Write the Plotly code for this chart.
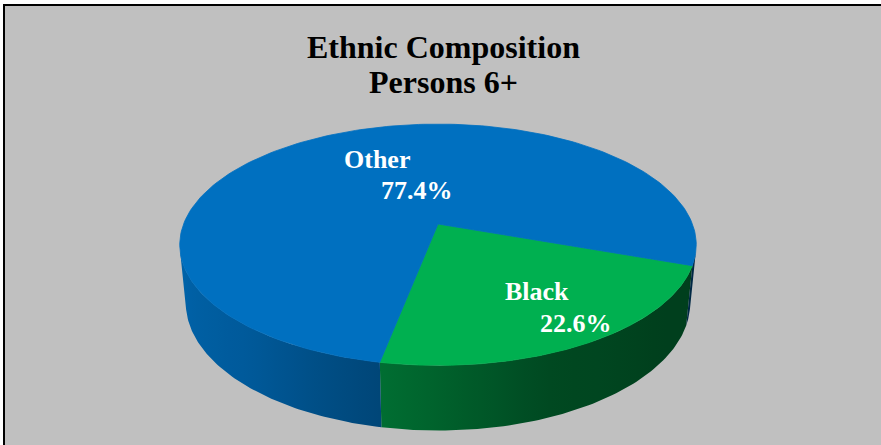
import numpy as np
import plotly.graph_objects as go

# ---------------- data ----------------
categories = ["Black", "Other"]
values = [22.6, 77.4]
title_lines = ["Ethnic Composition", "Persons 6+"]

# ---------------- style / layout constants ----------------
W, H = 881, 445
top_colors = {"Black": (0, 176, 80), "Other": (0, 112, 192)}
label_pos = {"Black": [(537, 291), (576, 323)], "Other": [(377, 159), (417, 190)]}
FONT = "Liberation Serif, Times New Roman, serif"

# 3D pie projection parameters (pixel space)
CX, CY = 438, 224
F = 1314.0
D = 5.165
ALPHA = np.radians(27.4)
DEPTH = 0.26
START = -19.6  # deg, first slice starts here and runs clockwise


def proj(t, z):
    x = np.cos(t)
    y = np.sin(t)
    den = D + y * np.cos(ALPHA) - z * np.sin(ALPHA)
    sx = F * x / den
    sy = F * (y * np.sin(ALPHA) + z * np.cos(ALPHA)) / den
    return CX + sx, CY - sy


# shading factor of the side wall as function of angle (deg, 0..360)
shade_t = [180, 190, 230, 260, 290, 320, 360]
shade_f = [0.90, 0.90, 0.80, 0.62, 0.42, 0.36, 0.35]


def shade(tdeg):
    return np.interp(np.mod(tdeg, 360), shade_t, shade_f)


def rgb(c, f=1.0):
    return "rgb(%d,%d,%d)" % tuple(int(round(v * f)) for v in c)


total = sum(values)
slices = []
a0 = START
for cat, v in zip(categories, values):
    a1 = a0 - v / total * 360.0
    slices.append((cat, a1, a0))
    a0 = a1

# front-facing part of the cylinder wall
k = np.degrees(np.arcsin(1.0 / (D * np.cos(ALPHA))))
vis = [(-180 + k, -k), (-540 + k, -360 - k)]

fig = go.Figure()

# side walls
for cat, lo, hi in slices:
    for vlo, vhi in vis:
        u0, u1 = max(lo, vlo), min(hi, vhi)
        if u1 - u0 <= 0.01:
            continue
        tdeg = np.linspace(u0, u1, 80)
        t = np.radians(tdeg)
        xt, yt = proj(t, 0.0)
        xb, yb = proj(t[::-1], -DEPTH)
        px = np.concatenate([xt, xb, xt[:1]])
        py = np.concatenate([yt, yb, yt[:1]])
        ns = 16
        ts = np.linspace(u0, u1, ns)
        xs, _ = proj(np.radians(ts), 0.0)
        if xs[-1] - xs[0] < 1e-6:
            pos = np.linspace(0, 1, ns)
        else:
            pos = (xs - xs[0]) / (xs[-1] - xs[0])
        pos[0], pos[-1] = 0.0, 1.0
        cs = [[float(p), rgb(top_colors[cat], shade(tt))] for p, tt in zip(pos, ts)]
        fig.add_trace(go.Scatter(
            x=px, y=py, mode="lines", fill="toself",
            line=dict(width=0, color=rgb(top_colors[cat], shade(u0))),
            fillgradient=dict(type="horizontal", colorscale=cs,
                              start=float(xs[0]), stop=float(xs[-1])),
            hoverinfo="skip", showlegend=False))

# top faces
for cat, lo, hi in slices:
    t = np.radians(np.linspace(hi, lo, 200))
    xt, yt = proj(t, 0.0)
    px = np.concatenate([[CX], xt, [CX]])
    py = np.concatenate([[CY], yt, [CY]])
    fig.add_trace(go.Scatter(
        x=px, y=py, mode="lines", fill="toself",
        fillcolor=rgb(top_colors[cat]),
        line=dict(width=0.8, color=rgb(top_colors[cat])),
        hoverinfo="skip", showlegend=False, name=cat))

annotations = []
# title
for (txt, yy) in zip(title_lines, [47, 82]):
    annotations.append(dict(x=443, y=yy, xref="x", yref="y", text="<b>%s</b>" % txt,
                            showarrow=False, xanchor="center", yanchor="middle",
                            font=dict(family=FONT, size=32, color="black")))
# data labels
for cat, v in zip(categories, values):
    (x1, y1), (x2, y2) = label_pos[cat]
    annotations.append(dict(x=x1, y=y1, xref="x", yref="y", text="<b>%s</b>" % cat,
                            showarrow=False, xanchor="center", yanchor="middle",
                            font=dict(family=FONT, size=26, color="white")))
    annotations.append(dict(x=x2, y=y2, xref="x", yref="y", text="<b>%.1f%%</b>" % v,
                            showarrow=False, xanchor="center", yanchor="middle",
                            font=dict(family=FONT, size=26, color="white")))

fig.update_layout(
    width=W, height=H,
    margin=dict(l=0, r=0, t=0, b=0),
    paper_bgcolor="white", plot_bgcolor="rgba(0,0,0,0)",
    xaxis=dict(range=[0, W], visible=False, fixedrange=True),
    yaxis=dict(range=[H, 0], visible=False, fixedrange=True),
    shapes=[dict(type="rect", xref="x", yref="y", x0=4, y0=5, x1=W + 20, y1=H + 20,
                 fillcolor="#C0C0C0", line=dict(color="black", width=2), layer="below")],
    annotations=annotations,
    showlegend=False,
)

fig.write_html("out.html", config={"displayModeBar": False},
               post_script="document.body.style.margin='0px';document.body.style.overflow='hidden';")
